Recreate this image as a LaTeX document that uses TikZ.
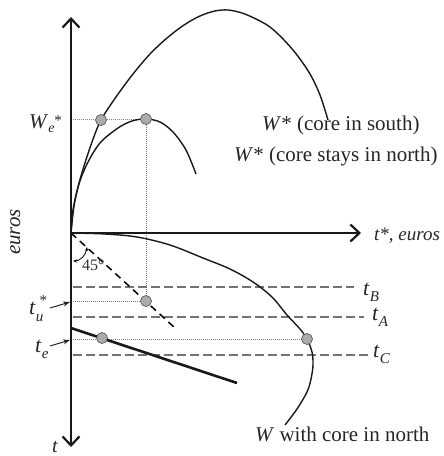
\documentclass[tikz,border=0pt]{standalone}
\usepackage{fontspec}
\setmainfont{Liberation Serif}
\usetikzlibrary{arrows.meta}
\newcommand{\tsubx}[1]{\textit{t}\raisebox{-6pt}{\fontsize{15}{15}\selectfont\itshape #1}}
\begin{document}
\begin{tikzpicture}[x=1pt,y=-1pt,
  mainaxis/.style={line width=2.4pt, draw=black!90, -{Straight Barb[length=9pt,width=17pt,line width=2.2pt]}},
  wcurve/.style={line width=1.4pt, draw=black!90},
  guide/.style={draw=black!55, line width=1.1pt, dash pattern=on 9pt off 4pt},
  dotline/.style={draw=black!50, line width=0.8pt, dash pattern=on 1pt off 1pt},
  markdot/.style={circle, fill=black!33, draw=black!65, line width=0.7pt, inner sep=0pt, minimum size=11pt},
  lab/.style={font=\fontsize{21}{24}\selectfont, inner sep=0pt, text=black!85},
  tlab/.style={font=\fontsize{22}{24}\selectfont, inner sep=0pt, text=black!85},
  pointer/.style={line width=1pt, draw=black!85, -{Stealth[length=7pt,width=5pt]}},
]
\useasboundingbox (0,0) rectangle (444,456);
% key points
\coordinate (O) at (71,233);
\coordinate (Ytop) at (71,17);
\coordinate (Ybot) at (71,447);
\coordinate (Xend) at (361,233);
\coordinate (D45) at (175,328);
\coordinate (P1) at (101,120);
\coordinate (P2) at (146,119);
\coordinate (P3) at (146,301);
\coordinate (P4) at (102,338);
\coordinate (P5) at (307,339);
\coordinate (L1) at (73,119);
\coordinate (L3) at (73,301);
\coordinate (L4) at (73,339);
\coordinate (TLs) at (71,328);
\coordinate (TLe) at (237,383);
\coordinate (B0) at (73,287);
\coordinate (B1) at (354,287);
\coordinate (A0) at (73,317);
\coordinate (A1) at (364,317);
\coordinate (C0) at (73,355);
\coordinate (C1) at (370,355);
\coordinate (Arc0) at (73,261);
\coordinate (Arc1) at (87,247);

% guides
\draw[guide] (B0) -- (B1);
\draw[guide] (A0) -- (A1);
\draw[guide] (C0) -- (C1);
\draw[dotline] (L1) -- (P2);
\draw[dotline] (P2) -- (P3);
\draw[dotline] (L3) -- (P3);
\draw[dotline] (L4) -- (P5);
\draw[black, line width=1.5pt, dash pattern=on 7pt off 5pt] (O) -- (D45);

% curves
\draw[wcurve] plot[smooth, tension=0.55] coordinates {(71,233) (73,210) (78,187) (84,166) (92,142) (101,120) (116,97) (133,74) (150,54) (167,38) (184,25) (200,16) (215,11) (228,10) (242,13) (256,19) (270,27) (284,40) (297,55) (310,74) (320,95) (328,120)};
\draw[wcurve] plot[smooth, tension=0.55] coordinates {(71,233) (74,206) (79,184) (87,164) (100,143) (118,128) (132,121) (146,119) (160,122) (173,132) (186,150) (196,174)};
\draw[wcurve] plot[smooth, tension=0.55] coordinates {(71,233) (105,234) (137,237) (170,245) (203,258) (230,269) (253,282) (272,297) (287,315) (300,329) (307,339) (312,352) (313,365) (311,379) (307,392) (297,409) (285,425)};
\draw[line width=2.6pt, draw=black!90] (TLs) -- (TLe);

% axes
\draw[mainaxis] (O) -- (Ytop);
\draw[mainaxis] (O) -- (Ybot);
\draw[mainaxis, line width=2pt] (O) -- (Xend);

% angle
\draw[line width=0.8pt, {Stealth[length=4pt,width=3pt]}-{Stealth[length=4pt,width=3pt]}] (Arc0) .. controls (80,261) and (86,255) .. (Arc1);
\node[font=\fontsize{16}{18}\selectfont, inner sep=0pt, anchor=base west, text=black!80] (ang) at (82,270) {45°};

% dots
\node[markdot] (d1) at (P1) {};
\node[markdot] (d2) at (P2) {};
\node[markdot] (d3) at (P3) {};
\node[markdot] (d4) at (P4) {};
\node[markdot] (d5) at (P5) {};

% labels
\node[lab, anchor=base west] (We) at (29,128) {\textit{W}\raisebox{-4pt}{\fontsize{14}{14}\selectfont\itshape e}\raisebox{3pt}{\fontsize{15}{15}\selectfont *}};
\node[lab, anchor=base west] (Ws) at (262,130) {\textit{W}* (core in south)};
\node[lab, anchor=base west] (Wn) at (234,161) {\textit{W}* (core stays in north)};
\node[lab, anchor=base west] (Wc) at (255,441) {\textit{W} with core in north};
\node[lab, anchor=base west, font=\fontsize{19}{22}\selectfont] (xl) at (374,240) {\textit{t*, euros}};
\node[lab, anchor=base, rotate=90] (yl) at (20,232) {\textit{euros}};
\node[tlab, anchor=base west, font=\fontsize{20}{22}\selectfont] (tb) at (52,452) {\textit{t}};
\node[tlab, anchor=base west] (tB) at (363,295) {\tsubx{B}};
\node[tlab, anchor=base west] (tA) at (372,320) {\tsubx{A}};
\node[tlab, anchor=base west] (tC) at (373,357) {\tsubx{C}};
\node[tlab, anchor=base west] (tu) at (29,314) {\textit{t}\makebox[0pt][l]{\raisebox{9pt}{\fontsize{15}{15}\selectfont\ *}}\raisebox{-7pt}{\fontsize{15}{15}\selectfont\itshape u}};
\node[tlab, anchor=base west] (te) at (35,352) {\tsubx{e}};
\coordinate (tuS) at (50,308);
\coordinate (tuE) at (70,302);
\coordinate (teS) at (50,346);
\coordinate (teE) at (70,340);
\draw[pointer] (tuS) -- (tuE);
\draw[pointer] (teS) -- (teE);
\end{tikzpicture}
\end{document}
